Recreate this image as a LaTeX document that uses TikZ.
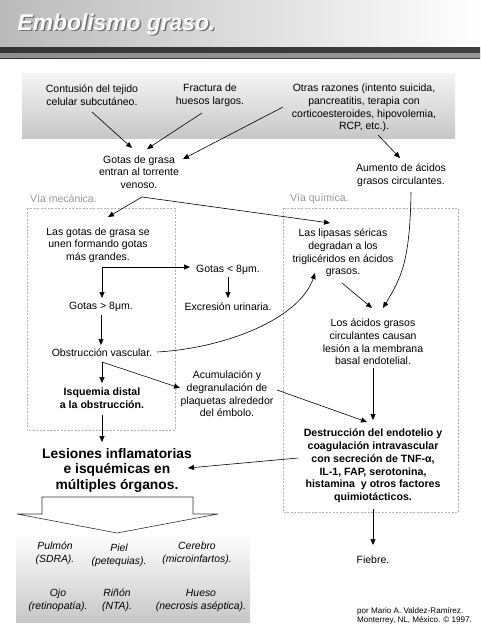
\documentclass[tikz,border=0pt]{standalone}
\usepackage{fontspec}
\setmainfont{Liberation Sans}
\usetikzlibrary{arrows.meta,calc}
\begin{document}
\begin{tikzpicture}[x=1pt,y=-1pt,
  txt/.style={align=center,inner sep=1pt,font=\fontsize{10.5}{12.7}\selectfont},
  btxt/.style={align=center,inner sep=1pt,font=\fontsize{10.6}{12.8}\selectfont\bfseries},
  bigtxt/.style={align=center,inner sep=1pt,font=\fontsize{13.8}{15.5}\selectfont\bfseries},
  org/.style={align=center,inner sep=1pt,font=\fontsize{10.4}{13}\selectfont\itshape},
  arr/.style={-{Triangle[length=6pt,width=5pt]},line width=0.6pt},
  via/.style={draw=black!30,dash pattern=on 2pt off 1.5pt,line width=0.5pt},
  vialabel/.style={anchor=west,inner sep=0pt,text=black!40,font=\fontsize{10.5}{12}\selectfont}]

\useasboundingbox (0,0) rectangle (480,640);
\fill[white] (0,0) rectangle (480,640);

% banner
\shade[left color=black!27,right color=white] (0,0) rectangle (480,48);
\shade[left color=black!80,middle color=white,right color=black!75] (0,47) rectangle (480,58);
\fill[white,opacity=0.45] (0,53) rectangle (480,58);
\node[anchor=west,inner sep=0pt,text=black!55,font=\fontsize{22.8}{26}\selectfont\bfseries\itshape] (titleshadow) at (19,26) {Embolismo graso.};
\node[anchor=west,inner sep=0pt,text=white,font=\fontsize{22.8}{26}\selectfont\bfseries\itshape] (title) at (17.5,24.5) {Embolismo graso.};

% background boxes
\shade[top color=black!4,bottom color=black!22] (22,73) rectangle (455,138);
\shade[top color=white,bottom color=black!22] (16,533) rectangle (250,622);
\draw[via] (27,208) rectangle (175,430);
\draw[via] (283,208) rectangle (458,512);
\node[vialabel] (lmec) at (30,199) {Vía mecánica.};
\node[vialabel] (lqui) at (290,199) {Vía química.};

% text nodes
\node[txt] (contusion) at (92,95) {Contusión del tejido\\celular subcutáneo.};
\node[txt] (fractura) at (210,95) {Fractura de\\huesos largos.};
\node[txt] (otras) at (364,108) {Otras razones (intento suicida,\\pancreatitis, terapia con\\corticoesteroides, hipovolemia,\\RCP, etc.).};
\node[txt] (gotas) at (139,172) {Gotas de grasa\\entran al torrente\\venoso.};
\node[txt] (aumento) at (401,175) {Aumento de ácidos\\grasos circulantes.};
\node[txt] (unen) at (98,245) {Las gotas de grasa se\\unen formando gotas\\más grandes.};
\node[txt] (lipasas) at (343,253) {Las lipasas séricas\\degradan a los\\triglicéridos en ácidos\\grasos.};
\node[txt] (menor) at (228,270) {Gotas < 8μm.};
\node[txt] (excresion) at (228,307) {Excresión urinaria.};
\node[txt] (mayor) at (101,307) {Gotas > 8μm.};
\node[txt] (obstr) at (102,353) {Obstrucción vascular.};
\node[txt] (acidos) at (373,342) {Los ácidos grasos\\circulantes causan\\lesión a la membrana\\basal endotelial.};
\node[btxt] (isquemia) at (102,398) {Isquemia distal\\a la obstrucción.};
\node[txt] (acum) at (227,394) {Acumulación y\\degranulación de\\plaquetas alrededor\\del émbolo.};
\node[btxt] (destr) at (373,466) {Destrucción del endotelio y\\coagulación intravascular\\con secreción de TNF-α,\\IL-1, FAP, serotonina,\\histamina\ \ y otros factores\\quimiotácticos.};
\node[bigtxt] (lesiones) at (117,470) {Lesiones inflamatorias\\e isquémicas en\\múltiples órganos.};
\node[txt] (fiebre) at (373,560) {Fiebre.};

% organs
\node[org] (pulmon) at (55,553) {Pulmón\\(SDRA).};
\node[org] (piel) at (119,555) {Piel\\(petequias).};
\node[org] (cerebro) at (197,553) {Cerebro\\(microinfartos).};
\node[org] (ojo) at (58,600) {Ojo\\(retinopatía).};
\node[org] (rinon) at (117,600) {Riñón\\(NTA).};
\node[org] (hueso) at (201,600) {Hueso\\(necrosis aséptica).};

% credit
\node[anchor=west,align=left,inner sep=0pt,font=\fontsize{8.1}{8.8}\selectfont] (credit) at (357,616) {por Mario A. Valdez-Ramírez.\\Monterrey, NL, México. © 1997.};

% block arrow
\draw[line width=0.6pt,draw=black!80,fill=white] (42,497) -- (193,497) -- (193,514) -- (218,514) -- (117,533) -- (17,514) -- (42,514) -- cycle;

% connectors
\draw[arr] ($(contusion)+(0,17)$) -- ($(gotas)+(-7,-24)$);
\draw[arr] ($(fractura)+(-8,18)$) -- ($(gotas)+(8,-23)$);
\draw[arr] ($(otras)+(-81,-1)$) -- ($(gotas)+(44,-13)$);
\draw[arr] ($(otras)+(14,27)$) -- ($(aumento)+(-1,-17)$);
\coordinate (gv) at ($(gotas)+(3,25)$);
\draw[arr] (gv) -- ($(unen)+(10,-28)$);
\draw[arr] (gv) -- ($(lipasas)+(-13,-30)$);
\coordinate (uc) at ($(unen)+(4,22)$);
\draw[arr] (uc) -- ($(mayor)+(1,-9)$);
\draw[arr] (uc) -- ($(menor)+(-38,-3)$);
\draw[arr] ($(menor)+(0,7)$) -- ($(excresion)+(0,-9)$);
\draw[arr] ($(mayor)+(0,8)$) -- ($(obstr)+(-1,-8)$);
\draw[arr] ($(obstr)+(55,-1)$) .. controls +(70,-4) and +(-15,45) .. ($(lipasas)+(-28,20)$);
\draw[arr] ($(lipasas)+(-1,30)$) -- ($(acidos)+(-1,-34)$);
\draw[arr] ($(aumento)+(10,17)$) .. controls +(-1,70) and +(18,-30) .. ($(acidos)+(10,-34)$);
\draw[arr] ($(acidos)+(0,26)$) -- ($(destr)+(0,-46)$);
\coordinate (oc) at ($(obstr)+(0,9)$);
\draw[arr] (oc) -- ($(isquemia)+(0,-15)$);
\draw[arr] (oc) -- ($(acum)+(-47,-6)$);
\draw[arr] ($(acum)+(50,-4)$) -- ($(destr)+(-6,-44)$);
\draw[arr] ($(isquemia)+(0,17)$) -- ($(lesiones)+(-15,-28)$);
\draw[arr] ($(destr)+(-75,-8)$) -- ($(lesiones)+(71,-2)$);
\draw[arr] ($(destr)+(0,43)$) -- ($(fiebre)+(0,-15)$);
\end{tikzpicture}
\end{document}
